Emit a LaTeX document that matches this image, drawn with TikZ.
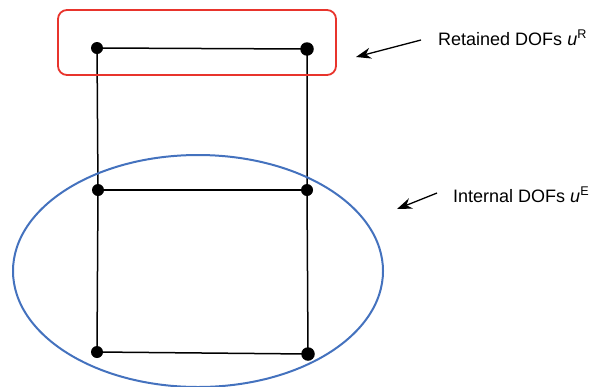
\documentclass[tikz,border=0pt]{standalone}
\usepackage{fontspec}
\setmainfont{Liberation Sans}
\usetikzlibrary{arrows.meta}
\definecolor{boxred}{RGB}{232,52,44}
\definecolor{ellblue}{RGB}{68,114,190}
\begin{document}
\begin{tikzpicture}[x=1pt,y=-1pt,
  dof/.style={circle,fill=black,inner sep=0pt,minimum size=12pt},
  bigdof/.style={dof,minimum size=13.5pt},
  bar/.style={line width=1.5pt,black},
  pointer/.style={line width=1.3pt,-{Stealth[length=15pt,width=11pt]}},
  lbl/.style={anchor=base west,inner sep=0pt,font=\fontsize{18}{20}\selectfont}]
\useasboundingbox (0,0) rectangle (609,386);
% nodes of the frame
\node[dof] (tl) at (97,48) {};
\node[bigdof] (tr) at (307,49) {};
\node[dof] (ml) at (98,190) {};
\node[dof] (mr) at (307,190) {};
\node[dof] (bl) at (97,352) {};
\node[bigdof] (br) at (308,354) {};
% members
\draw[bar] (tl.center) -- (tr.center);
\draw[bar] (ml.center) -- (mr.center);
\draw[bar] (bl.center) -- (br.center);
\draw[bar] (tl.center) -- (ml.center) -- (bl.center);
\draw[bar] (tr.center) -- (mr.center) -- (br.center);
% groups
\draw[boxred,line width=1.8pt,rounded corners=9pt] (58,10) rectangle (336,75);
\draw[ellblue,line width=2pt] (198,271) ellipse (185pt and 116pt);
% labels
\node[lbl] (rt) at (438,45) {Retained DOFs \textit{u}\textsuperscript{R}};
\node[lbl] (in) at (453,202) {Internal DOFs \textit{u}\textsuperscript{E}};
\coordinate (rtail) at (421,40);
\coordinate (rhead) at (356,57);
\coordinate (itail) at (437,193);
\coordinate (ihead) at (397,209);
\draw[pointer] (rtail) -- (rhead);
\draw[pointer] (itail) -- (ihead);
\end{tikzpicture}
\end{document}
